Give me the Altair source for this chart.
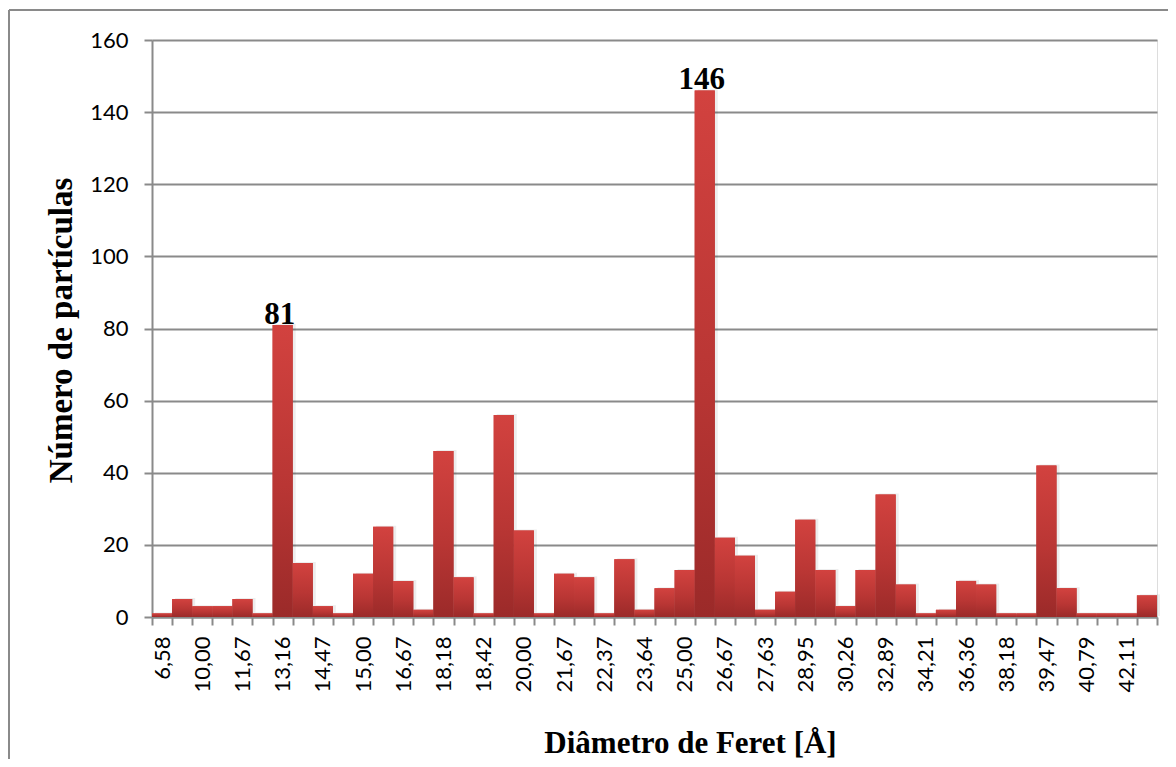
import altair as alt
import pandas as pd

# Category labels (every bar); only every other one is printed on the axis
categories = ["6,58", "7,89", "10,00", "10,53", "11,67", "12,50", "13,16", "13,33", "14,47", "14,74",
              "15,00", "15,79", "16,67", "17,11", "18,18", "18,33", "18,42", "19,74", "20,00", "21,05",
              "21,67", "21,93", "22,37", "23,33", "23,64", "24,21", "25,00", "25,76", "26,67", "27,27",
              "27,63", "28,33", "28,95", "29,61", "30,26", "31,58", "32,89", "33,33", "34,21", "35,53",
              "36,36", "36,84", "38,18", "38,89", "39,47", "40,00", "40,79", "41,67", "42,11", "43,42"]

shown_labels = ["6,58", "10,00", "11,67", "13,16", "14,47", "15,00", "16,67", "18,18", "18,42",
                "20,00", "21,67", "22,37", "23,64", "25,00", "26,67", "27,63", "28,95", "30,26",
                "32,89", "34,21", "36,36", "38,18", "39,47", "40,79", "42,11"]

counts = [1, 5, 3, 3, 5, 1, 81, 15, 3, 1,
          12, 25, 10, 2, 46, 11, 1, 56, 24, 1,
          12, 11, 1, 16, 2, 8, 13, 146, 22, 17,
          2, 7, 27, 13, 3, 13, 34, 9, 1, 2,
          10, 9, 1, 1, 42, 8, 1, 1, 1, 6]

y_ticks = [0, 20, 40, 60, 80, 100, 120, 140, 160]

df = pd.DataFrame({"d": categories, "n": counts})

GRAY = "#8a8a8a"
LABEL_FONT = "Lato"
SERIF = "Liberation Serif"

label_expr = ("indexof([" + ",".join("'%s'" % s for s in shown_labels) +
              "], datum.value) >= 0 ? datum.value : ''")

x_enc = alt.X(
    "d:N", sort=categories,
    scale=alt.Scale(paddingInner=0, paddingOuter=0),
    axis=alt.Axis(
        title="Diâmetro de Feret [Å]",
        labelExpr=label_expr, labelAngle=270, labelAlign="right", labelBaseline="middle",
        labelFont=LABEL_FONT, labelFontSize=22, labelColor="#000000", labelPadding=11,
        labelOverlap=False, tickBand="extent", tickSize=8, tickColor=GRAY, tickWidth=2,
        domainColor=GRAY, domainWidth=2, grid=False,
        titleFont=SERIF, titleFontWeight="bold", titleFontSize=31, titleColor="#000000",
        titleX=538, titleY=135, titleAlign="center", titleBaseline="alphabetic",
    ),
)

y_enc = alt.Y(
    "n:Q",
    scale=alt.Scale(domain=[0, 160], nice=False),
    axis=alt.Axis(
        values=y_ticks, title="Número de partículas",
        labelFont=LABEL_FONT, labelFontSize=22, labelColor="#000000", labelPadding=16,
        tickSize=8, tickColor=GRAY, tickWidth=2,
        domainColor=GRAY, domainWidth=2,
        grid=True, gridColor=GRAY, gridWidth=2,
        titleFont=SERIF, titleFontWeight="bold", titleFontSize=33, titleColor="#000000",
        titleX=-91, titleY=290, titleAngle=270, titleAlign="center", titleBaseline="middle",
    ),
)

bar_fill = alt.Gradient(
    gradient="linear",
    stops=[alt.GradientStop(color="#d2423f", offset=0),
           alt.GradientStop(color="#b93634", offset=0.55),
           alt.GradientStop(color="#9b2a29", offset=1)],
    x1=0, x2=0, y1=0, y2=1,
)

shadow = alt.Chart(df).mark_bar(color="#000000", opacity=0.07, xOffset=3, yOffset=-1).encode(
    x=alt.X("d:N", sort=categories), y="n:Q")

bars = alt.Chart(df).mark_bar(color=bar_fill).encode(x=x_enc, y=y_enc)

peaks = alt.Chart(df).transform_filter("datum.n >= 80").mark_text(
    font=SERIF, fontWeight="bold", fontSize=31, baseline="alphabetic",
    dy=-1, dx=-3, color="#000000"
).encode(x=alt.X("d:N", sort=categories), y="n:Q", text="n:Q")

frame_df = pd.DataFrame({"k": [0]})
frame_left = alt.Chart(frame_df).mark_rule(color=GRAY, strokeWidth=2).encode(
    x=alt.value(-143), y=alt.value(-30), y2=alt.value(800))
frame_top = alt.Chart(frame_df).mark_rule(color=GRAY, strokeWidth=2).encode(
    x=alt.value(-143), x2=alt.value(1100), y=alt.value(-30))

chart = alt.layer(bars, shadow, bars, peaks, frame_left, frame_top).properties(
    width=1005, height=577,
    autosize=alt.AutoSizeParams(type="none"),
    padding={"left": 144, "top": 32, "right": 11, "bottom": 142},
).configure_view(stroke=None).configure(background="white")

chart.save("out.html", embed_options={"renderer": "svg", "actions": False})
